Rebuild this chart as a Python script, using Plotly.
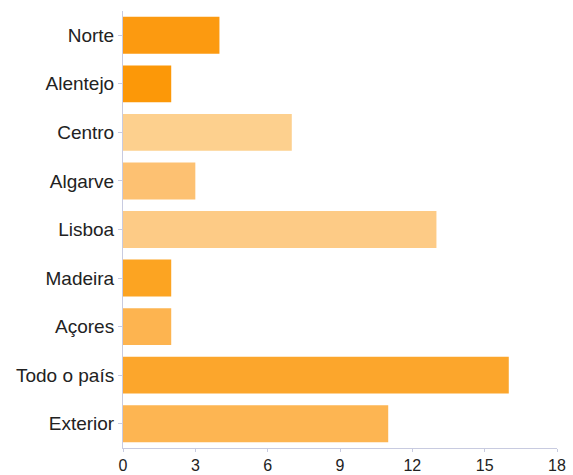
import plotly.graph_objects as go

categories = ["Norte", "Alentejo", "Centro", "Algarve", "Lisboa", "Madeira", "Açores", "Todo o país", "Exterior"]
values = [4, 2, 7, 3, 13, 2, 2, 16, 11]
colors = ["#FC9A10", "#FC9808", "#FDD08E", "#FDC172", "#FDCB86", "#FCA422", "#FDB450", "#FCA62C", "#FDB552"]
x_ticks = [0, 3, 6, 9, 12, 15, 18]

fig = go.Figure(go.Bar(
    y=categories, x=values, orientation="h",
    marker=dict(color=colors, line=dict(width=0)),
))
fig.update_layout(
    width=573, height=475,
    margin=dict(l=123, r=16, t=11, b=27),
    paper_bgcolor="white", plot_bgcolor="white",
    bargap=0.24,
    showlegend=False,
    font=dict(family="Liberation Sans, Arial, sans-serif", size=19, color="#222"),
)
fig.update_xaxes(
    range=[0, 18], tickvals=x_ticks, showgrid=False, zeroline=False,
    showline=True, linecolor="#c8cbe0", linewidth=1, automargin=False,
    ticks="outside", ticklen=3, tickcolor="#c8cbe0",
    tickfont=dict(size=16, color="#222"),
)
fig.update_yaxes(
    autorange="reversed", showgrid=False, zeroline=False, automargin=False,
    showline=True, linecolor="#c8cbe0", linewidth=1,
    ticks="outside", ticklen=4, tickcolor="#c8cbe0",
    tickfont=dict(size=19, color="#222"),
)
fig.write_html("out.html")
